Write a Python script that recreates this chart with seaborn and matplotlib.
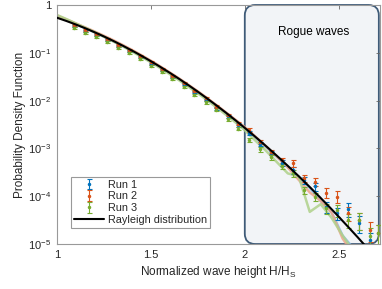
import numpy as np
import pandas as pd
import matplotlib
matplotlib.use("Agg")
import matplotlib.pyplot as plt
import seaborn as sns
from matplotlib.patches import FancyBboxPatch

# ---------------- data ----------------
bin_centers = [1.030, 1.089, 1.147, 1.206, 1.264, 1.323, 1.381, 1.440, 1.498, 1.557,
               1.615, 1.674, 1.732, 1.791, 1.849, 1.908, 1.966, 2.025, 2.083, 2.142,
               2.200, 2.259, 2.317, 2.376, 2.434, 2.493, 2.551, 2.610, 2.668, 2.710]
bin_edges = [1.000, 1.059, 1.117, 1.176, 1.234, 1.293, 1.351, 1.410, 1.468, 1.527,
             1.585, 1.644, 1.702, 1.761, 1.819, 1.878, 1.936, 1.995, 2.053, 2.112,
             2.170, 2.229, 2.287, 2.346, 2.404, 2.463, 2.521, 2.580, 2.638, 2.697]

nan = np.nan
run1_pdf = [nan, 0.358, 0.291, 0.232, 0.182, 0.141, 0.107, 0.0803, 0.0593, 0.0431,
            0.0309, 0.0218, 0.0151, 0.0104, 0.0070, 0.0047, 0.0031, 0.0021, 0.00125, 0.00080,
            0.00050, 0.00035, 0.00022, 0.00016, 6.0e-5, 4.5e-5, 5.4e-5, 2.8e-5, 1.2e-5, nan]
run2_pdf = [nan, 0.379, 0.307, 0.245, 0.193, 0.149, 0.113, 0.0849, 0.0627, 0.0455,
            0.0326, 0.0230, 0.0160, 0.0112, 0.0075, 0.0050, 0.0033, 0.0024, 0.00138, 0.00085,
            0.00057, 0.00049, 0.00024, 0.00020, 1.18e-4, 9.8e-5, 4.5e-5, 3.2e-5, 2.0e-5, 1.7e-5]
run3_pdf = [nan, 0.326, 0.264, 0.211, 0.166, 0.128, 0.097, 0.0730, 0.0539, 0.0392,
            0.0280, 0.0190, 0.0132, 0.0092, 0.0064, 0.0041, 0.0026, 0.0015, 0.00095, 0.00065,
            0.00042, 0.00030, 0.000135, 9.8e-5, 5.6e-5, 5.1e-5, 3.2e-5, 3.2e-5, 1.5e-5, 1.7e-5]
rel_err = [0.05, 0.05, 0.05, 0.05, 0.05, 0.05, 0.05, 0.05, 0.05, 0.05,
           0.05, 0.05, 0.06, 0.06, 0.07, 0.07, 0.08, 0.09, 0.10, 0.11,
           0.13, 0.15, 0.17, 0.20, 0.24, 0.28, 0.32, 0.38, 0.45, 0.50]

run1_line = [0.585, 0.470, 0.372, 0.296, 0.232, 0.180, 0.138, 0.104, 0.0772, 0.0566,
             0.0408, 0.0290, 0.0203, 0.0140, 0.0095, 0.0064, 0.0042, 0.0027, 0.00172, 0.00108,
             0.00067, 0.00041, 0.00025, 0.00015, 8.0e-5, 4.5e-5, 1.5e-5, 8.0e-6, nan, nan]
run2_line = [0.600, 0.482, 0.385, 0.308, 0.243, 0.189, 0.145, 0.109, 0.0810, 0.0592,
             0.0425, 0.0302, 0.0211, 0.0146, 0.0099, 0.0066, 0.0044, 0.0029, 0.00182, 0.00112,
             0.00068, 0.00040, 0.00022, 0.00012, 8.0e-5, 4.5e-5, 1.3e-5, 6.0e-6, nan, nan]
run3_line = [0.620, 0.490, 0.385, 0.300, 0.233, 0.179, 0.136, 0.101, 0.0748, 0.0545,
             0.0390, 0.0276, 0.0192, 0.0132, 0.0089, 0.0059, 0.0039, 0.0025, 0.00150, 0.00090,
             0.00052, 0.00030, 0.00026, 4.7e-5, 6.8e-5, 3.5e-5, 1.5e-5, 7.0e-6, nan, nan]

rayleigh_h = [1.00, 1.05, 1.10, 1.15, 1.20, 1.25, 1.30, 1.35, 1.40, 1.45, 1.50, 1.55,
              1.60, 1.65, 1.70, 1.75, 1.80, 1.85, 1.90, 1.95, 2.00, 2.05, 2.10, 2.15,
              2.20, 2.25, 2.30, 2.35, 2.40, 2.45, 2.50, 2.55, 2.60, 2.65, 2.70, 2.75]
rayleigh_pdf = [0.5413, 0.4631, 0.3912, 0.3266, 0.2694, 0.2197, 0.1770, 0.1410, 0.1111,
                0.08654, 0.06665, 0.05076, 0.03825, 0.02851, 0.02101, 0.01532, 0.01104,
                0.007882, 0.005564, 0.003885, 0.002684, 0.001835, 0.001241, 8.31e-4,
                5.51e-4, 3.61e-4, 2.34e-4, 1.50e-4, 9.54e-5, 5.99e-5, 3.73e-5, 2.29e-5,
                1.40e-5, 8.42e-6, 5.02e-6, 2.97e-6]

run_names = ["Run 1", "Run 2", "Run 3"]
xticks = [1, 1.5, 2, 2.5]
xtick_labels = ["1", "1.5", "2", "2.5"]
yticks = [1e-5, 1e-4, 1e-3, 1e-2, 1e-1, 1]
ytick_labels = [r"$\mathregular{10^{-5}}$", r"$\mathregular{10^{-4}}$", r"$\mathregular{10^{-3}}$",
                r"$\mathregular{10^{-2}}$", r"$\mathregular{10^{-1}}$", "1"]

# ---------------- style ----------------
sns.set_theme(style="white")
plt.rcParams["font.family"] = ["Liberation Sans", "DejaVu Sans"]
plt.rcParams["mathtext.fontset"] = "custom"
plt.rcParams["mathtext.rm"] = "Liberation Sans"
plt.rcParams["mathtext.it"] = "Liberation Sans:italic"

marker_colors = ["#0072BD", "#D95319", "#77AC30"]
line_colors = ["#86b9e3", "#eea58a", "#afd18a"]

fig = plt.figure(figsize=(3.82, 2.89), dpi=100)
ax = fig.add_axes([57 / 382, 1 - 244 / 289, 323 / 382, 239 / 289])

# Rogue wave region (rounded box)
box = FancyBboxPatch((0.5814, 0.0), 0.415, 1.0,
                     boxstyle="round,pad=0,rounding_size=0.032",
                     mutation_aspect=323 / 239,
                     transform=ax.transAxes, facecolor="#f2f4f7",
                     edgecolor="#3f5b78", linewidth=1.3, clip_on=False, zorder=0.5)
ax.add_patch(box)
ax.text(0.793, 0.885, "Rogue waves", transform=ax.transAxes, ha="center",
        va="center", fontsize=8.5, color="black")

# faint lines
lines_df = pd.DataFrame({
    "h": bin_edges * 3,
    "pdf": run1_line + run2_line + run3_line,
    "run": sum([[n] * len(bin_edges) for n in run_names], []),
})
sns.lineplot(data=lines_df, x="h", y="pdf", hue="run", palette=line_colors,
             linewidth=1.8, alpha=0.85, legend=False, ax=ax, zorder=2,
             estimator=None, sort=False)

# error bars
eb_handles = []
for vals, col, name in zip([run1_pdf, run2_pdf, run3_pdf], marker_colors, run_names):
    v = np.array(vals, dtype=float)
    err = v * np.array(rel_err)
    h = ax.errorbar(bin_centers, v, yerr=err, fmt=".", color=col, ecolor=col,
                    markersize=3, elinewidth=0.8, capsize=1.8, capthick=0.8,
                    label=name, zorder=3)
    eb_handles.append(h)

# Rayleigh
sns.lineplot(x=rayleigh_h, y=rayleigh_pdf, color="black", linewidth=1.5, ax=ax,
             zorder=4, label="Rayleigh distribution")

ax.set_yscale("log")
ax.set_xlim(1, 2.72)
ax.set_ylim(1e-5, 1)
ax.set_xticks(xticks)
ax.set_xticklabels(xtick_labels)
ax.set_yticks(yticks)
ax.set_yticklabels(ytick_labels)
ax.minorticks_off()
ax.tick_params(direction="in", length=3, width=0.6, color="0.4", labelsize=8,
               labelcolor="0.15", top=True, right=True, pad=4)
for s in ax.spines.values():
    s.set_color("0.6")
    s.set_linewidth(0.8)

ax.set_xlabel(r"Normalized wave height H/H$_\mathregular{S}$", fontsize=8.5,
              color="0.15", labelpad=3)
ax.set_ylabel("Probability Density Function", fontsize=8.5, color="0.15", labelpad=2)

hs, ls = ax.get_legend_handles_labels()
order = [ls.index(n) for n in run_names + ["Rayleigh distribution"]]
leg = ax.legend([hs[i] for i in order], [ls[i] for i in order], loc="lower left",
                bbox_to_anchor=(0.043, 0.067),
                fontsize=7.8, frameon=True, fancybox=False, borderpad=0.3,
                labelspacing=0.15, handlelength=2.8, handletextpad=0.3,
                borderaxespad=0)
leg.get_frame().set_edgecolor("0.5")
leg.get_frame().set_linewidth(0.8)

fig.savefig("out.png", dpi=100)
